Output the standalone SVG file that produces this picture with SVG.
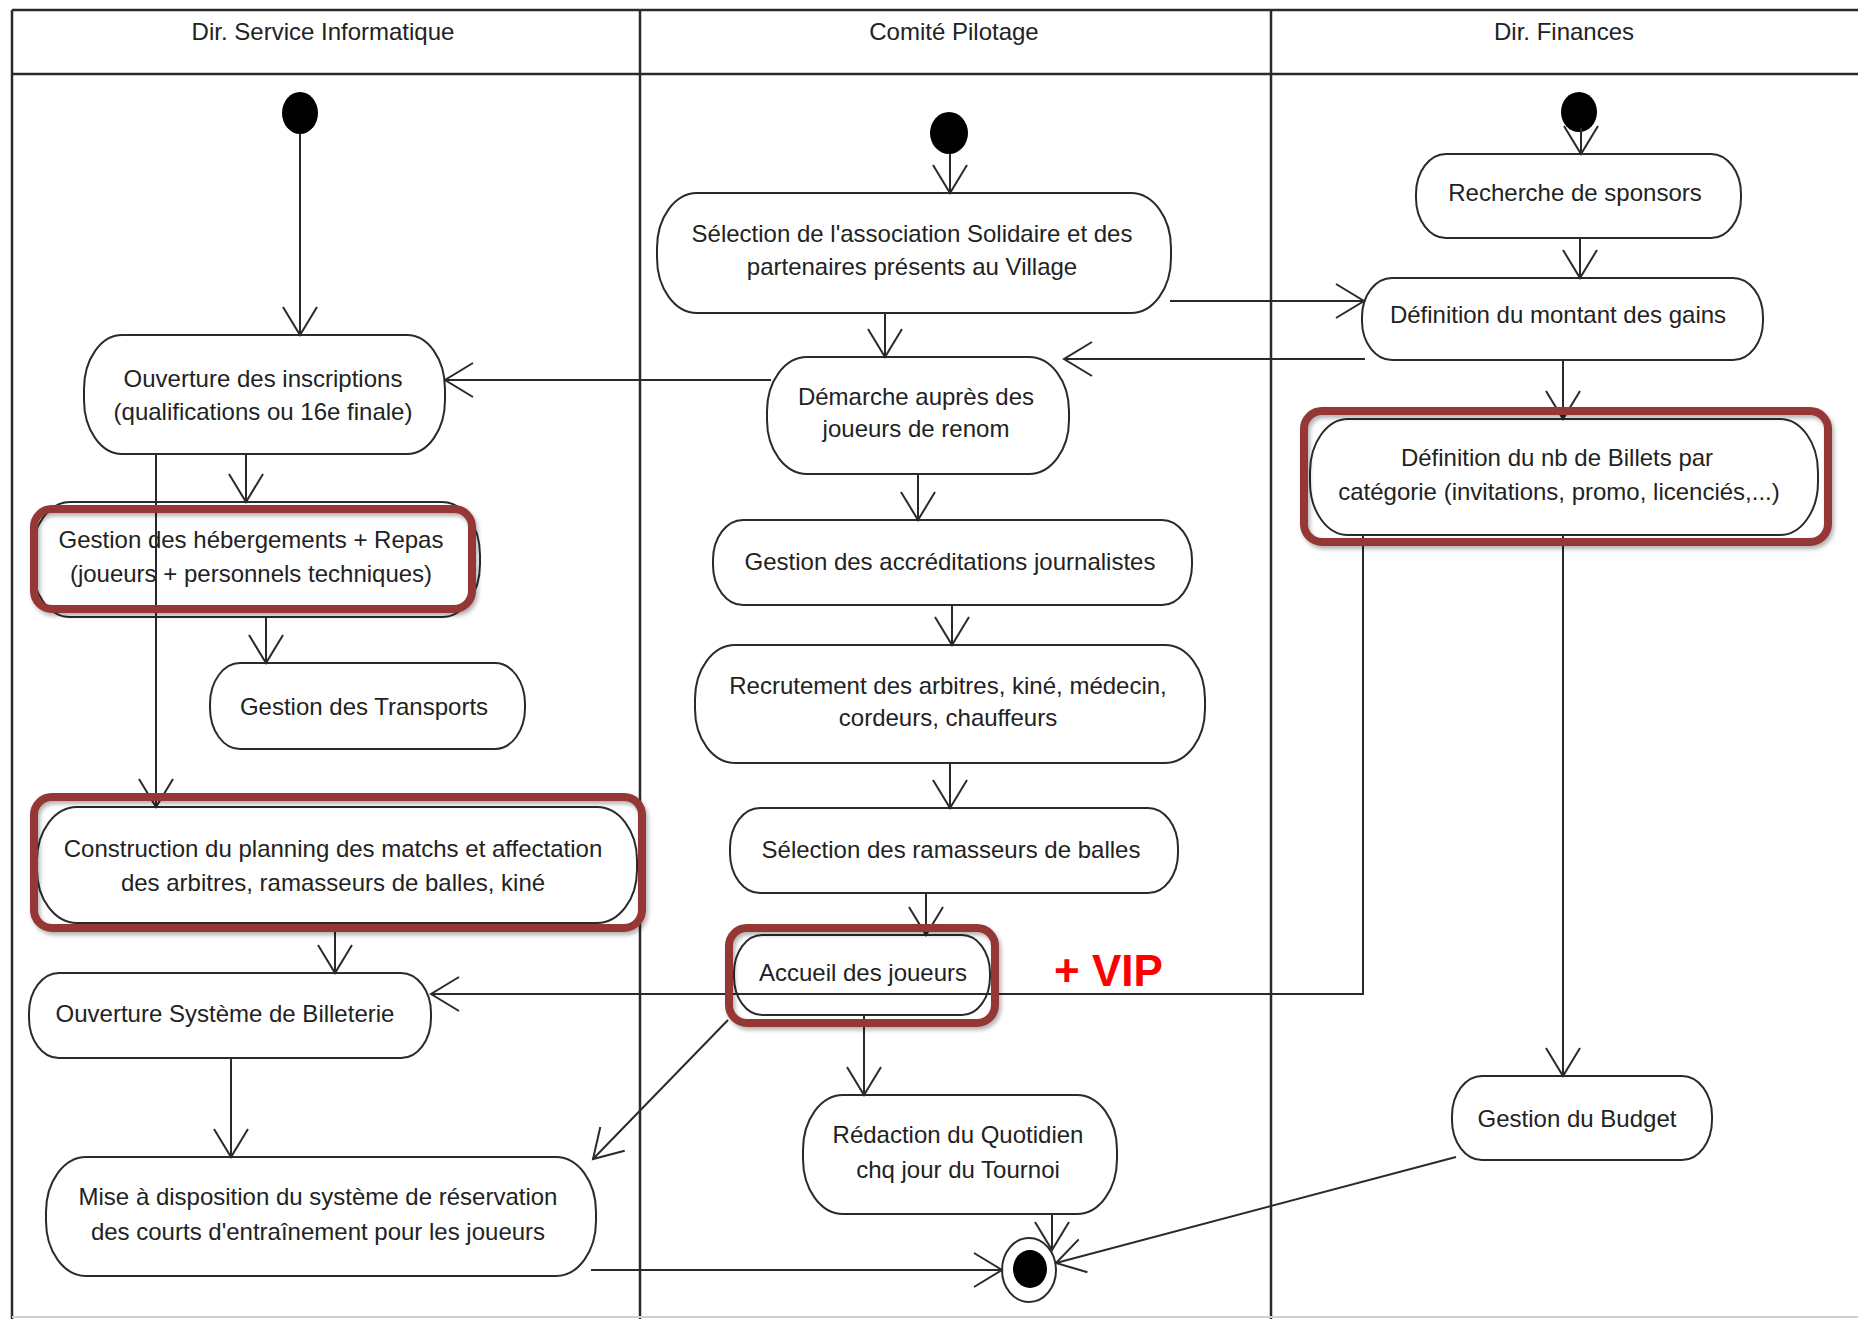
<svg xmlns="http://www.w3.org/2000/svg" width="1858" height="1319" viewBox="0 0 1858 1319">
<style>
  .frame{stroke:#2a2a2a;stroke-width:2.5;fill:none}
  .node{fill:#fff;stroke:#2a2a2a;stroke-width:2}
  .t{font-family:"Liberation Sans",Arial,sans-serif;font-size:24px;fill:#222;text-anchor:middle}
  .hd{font-family:"Liberation Sans",Arial,sans-serif;font-size:24px;fill:#222;text-anchor:middle}
  .c{stroke:#2a2a2a;stroke-width:2;fill:none;marker-end:url(#arr)}
  .hl{fill:none;stroke:#953735;stroke-width:8;filter:url(#sh)}
  .vip{font-family:"Liberation Sans",Arial,sans-serif;font-size:44px;font-weight:bold;fill:#ff0000}
</style>
<defs>
  <marker id="arr" markerUnits="userSpaceOnUse" markerWidth="34" markerHeight="40" viewBox="0 -20 34 40" refX="31" refY="0" orient="auto">
    <path d="M3,-17 L31,0 L3,17" fill="none" stroke="#2a2a2a" stroke-width="2"/>
  </marker>
  <filter id="sh" x="-10%" y="-10%" width="120%" height="130%">
    <feDropShadow dx="2" dy="3" stdDeviation="2" flood-color="#000" flood-opacity="0.3"/>
  </filter>
</defs>
<rect x="0" y="0" width="1858" height="1319" fill="#fff"/>

<g id="swimlanes">
  <line class="frame" x1="12" y1="10" x2="1858" y2="10"/>
  <line class="frame" x1="12" y1="74" x2="1858" y2="74"/>
  <line class="frame" x1="12" y1="10" x2="12" y2="1319"/>
  <line class="frame" x1="640" y1="10" x2="640" y2="1319"/>
  <line class="frame" x1="1271" y1="10" x2="1271" y2="1319"/>
  <line x1="12" y1="1317" x2="1858" y2="1317" stroke="#d0d0d0" stroke-width="2"/>
  <text class="hd" x="323" y="40">Dir. Service Informatique</text>
  <text class="hd" x="954" y="40">Comité Pilotage</text>
  <text class="hd" x="1564" y="40">Dir. Finances</text>
</g>

<g id="start1"><ellipse cx="300" cy="113" rx="18" ry="21" fill="#000"/></g>
<g id="start2"><ellipse cx="949" cy="133" rx="19" ry="21" fill="#000"/></g>
<g id="start3"><ellipse cx="1579" cy="112" rx="18" ry="20" fill="#000"/></g>
<g id="final">
  <ellipse cx="1029" cy="1270" rx="27" ry="32" fill="#fff" stroke="#2a2a2a" stroke-width="2"/>
  <ellipse cx="1030" cy="1269" rx="17" ry="19" fill="#000"/>
</g>

<g id="n_ouv_inscr"><rect class="node" x="84" y="335" width="361" height="119" rx="38" ry="54"/>
  <text class="t" x="263" y="387">Ouverture des inscriptions</text><text class="t" x="263" y="420">(qualifications ou 16e finale)</text></g>
<g id="n_selection"><rect class="node" x="657" y="193" width="514" height="120" rx="40" ry="55"/>
  <text class="t" x="912" y="242">Sélection de l'association Solidaire et des</text><text class="t" x="912" y="275">partenaires présents au Village</text></g>
<g id="n_demarche"><rect class="node" x="767" y="357" width="302" height="117" rx="40" ry="54"/>
  <text class="t" x="916" y="405">Démarche auprès des</text><text class="t" x="916" y="437">joueurs de renom</text></g>
<g id="n_recherche"><rect class="node" x="1416" y="154" width="325" height="84" rx="30" ry="40"/>
  <text class="t" x="1575" y="201">Recherche de sponsors</text></g>
<g id="n_montant"><rect class="node" x="1362" y="278" width="401" height="82" rx="30" ry="39"/>
  <text class="t" x="1558" y="323">Définition du montant des gains</text></g>
<g id="n_billets"><rect class="node" x="1310" y="419" width="508" height="116" rx="38" ry="53"/>
  <text class="t" x="1557" y="466">Définition du nb de Billets par</text><text class="t" x="1559" y="500">catégorie (invitations, promo, licenciés,...)</text></g>
<g id="n_budget"><rect class="node" x="1452" y="1076" width="260" height="84" rx="30" ry="40"/>
  <text class="t" x="1577" y="1127">Gestion du Budget</text></g>
<g id="n_accred"><rect class="node" x="713" y="520" width="479" height="85" rx="30" ry="40"/>
  <text class="t" x="950" y="570">Gestion des accréditations journalistes</text></g>
<g id="n_recrut"><rect class="node" x="695" y="645" width="510" height="118" rx="40" ry="54"/>
  <text class="t" x="948" y="694">Recrutement des arbitres, kiné, médecin,</text><text class="t" x="948" y="726">cordeurs, chauffeurs</text></g>
<g id="n_ramass"><rect class="node" x="730" y="808" width="448" height="85" rx="30" ry="40"/>
  <text class="t" x="951" y="858">Sélection des ramasseurs de balles</text></g>
<g id="n_accueil"><rect class="node" x="734" y="935" width="256" height="80" rx="28" ry="38"/>
  <text class="t" x="863" y="981">Accueil des joueurs</text></g>
<g id="n_redaction"><rect class="node" x="803" y="1095" width="314" height="119" rx="40" ry="55"/>
  <text class="t" x="958" y="1143">Rédaction du Quotidien</text><text class="t" x="958" y="1178">chq jour du Tournoi</text></g>
<g id="n_heberg"><rect class="node" x="32" y="502" width="448" height="115" rx="38" ry="53"/>
  <text class="t" x="251" y="548">Gestion des hébergements + Repas</text><text class="t" x="251" y="582">(joueurs + personnels techniques)</text></g>
<g id="n_transports"><rect class="node" x="210" y="663" width="315" height="86" rx="30" ry="41"/>
  <text class="t" x="364" y="715">Gestion des Transports</text></g>
<g id="n_construction"><rect class="node" x="37" y="807" width="600" height="116" rx="40" ry="53"/>
  <text class="t" x="333" y="857">Construction du planning des matchs et affectation</text><text class="t" x="333" y="891">des arbitres, ramasseurs de balles, kiné</text></g>
<g id="n_billeterie"><rect class="node" x="29" y="973" width="402" height="85" rx="30" ry="40"/>
  <text class="t" x="225" y="1022">Ouverture Système de Billeterie</text></g>
<g id="n_mise"><rect class="node" x="46" y="1157" width="550" height="119" rx="40" ry="55"/>
  <text class="t" x="318" y="1205">Mise à disposition du système de réservation</text><text class="t" x="318" y="1240">des courts d'entraînement pour les joueurs</text></g>

<g id="connectors">
  <path class="c" d="M300,134 L300,335"/>
  <path class="c" d="M950,154 L950,193"/>
  <path class="c" d="M1581,128 L1581,154"/>
  <path class="c" d="M885,313 L885,357"/>
  <path class="c" d="M1170,301 L1364,301"/>
  <path class="c" d="M1365,359 L1064,359"/>
  <path class="c" d="M771,380 L445,380"/>
  <path class="c" d="M1580,238 L1580,278"/>
  <path class="c" d="M1563,360 L1563,419"/>
  <path class="c" d="M246,454 L246,502"/>
  <path class="c" d="M156,454 L156,807"/>
  <path class="c" d="M266,617 L266,663"/>
  <path class="c" d="M918,474 L918,520"/>
  <path class="c" d="M952,605 L952,645"/>
  <path class="c" d="M950,763 L950,808"/>
  <path class="c" d="M926,893 L926,935"/>
  <path class="c" d="M1363,535 L1363,994 L431,994"/>
  <path class="c" d="M1563,535 L1563,1076"/>
  <path class="c" d="M335,923 L335,973"/>
  <path class="c" d="M231,1058 L231,1157"/>
  <path class="c" d="M728,1020 L593,1159"/>
  <path class="c" d="M864,1015 L864,1095"/>
  <path class="c" d="M591,1270 L1002,1270"/>
  <path class="c" d="M1052,1213 L1052,1250"/>
  <path class="c" d="M1456,1157 L1056,1263"/>
</g>

<g id="highlights">
  <rect class="hl" x="1304" y="411" width="524" height="131" rx="18"/>
  <rect class="hl" x="34" y="509" width="438" height="100" rx="18"/>
  <rect class="hl" x="34" y="797" width="608" height="131" rx="18"/>
  <rect class="hl" x="729" y="928" width="266" height="95" rx="18"/>
  <text class="vip" x="1054" y="986">+ VIP</text>
</g>
</svg>
